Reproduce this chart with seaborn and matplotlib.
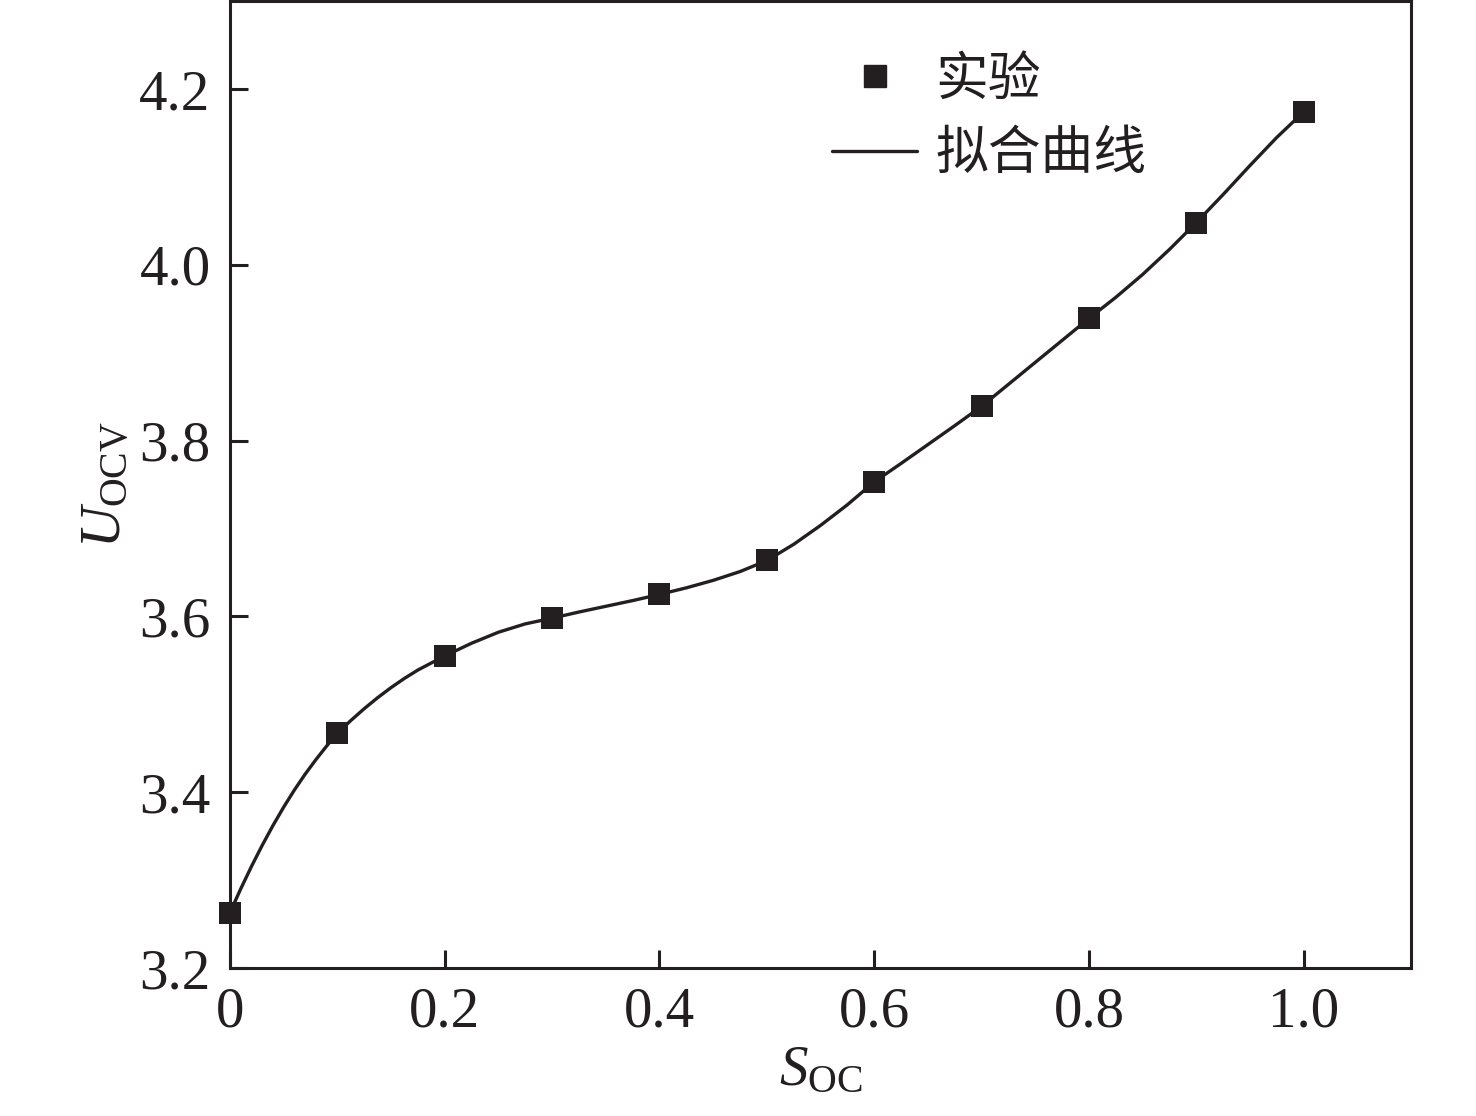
import matplotlib
matplotlib.use('Agg')
import matplotlib.pyplot as plt
import seaborn as sns
from matplotlib.lines import Line2D

# Dados experimentais (SOC x tensão de circuito aberto)
soc_exp = [0.0, 0.1, 0.2, 0.3, 0.4, 0.5, 0.6, 0.7, 0.8, 0.9, 1.0]
u_exp = [3.263, 3.467, 3.555, 3.598, 3.625, 3.664, 3.753, 3.839, 3.939, 4.048, 4.174]

# Curva ajustada
soc_fit = [0.0, 0.01, 0.02, 0.03, 0.04, 0.05, 0.06, 0.07, 0.08, 0.09,
           0.1, 0.1125, 0.125, 0.1375, 0.15, 0.1625, 0.175, 0.1875, 0.2,
           0.225, 0.25, 0.275, 0.3, 0.325, 0.35, 0.375, 0.4, 0.425, 0.45, 0.475,
           0.5, 0.525, 0.55, 0.575, 0.6, 0.625, 0.65, 0.675, 0.7, 0.725, 0.75,
           0.775, 0.8, 0.825, 0.85, 0.875, 0.9, 0.925, 0.95, 0.975, 1.0]
u_fit = [3.263, 3.290, 3.3155, 3.3395, 3.362, 3.383, 3.4025, 3.4205, 3.437, 3.4525,
         3.467, 3.4815, 3.495, 3.5075, 3.519, 3.5295, 3.539, 3.547, 3.555,
         3.5695, 3.582, 3.5915, 3.598, 3.605, 3.6115, 3.618, 3.625, 3.6325, 3.641, 3.651,
         3.6635, 3.682, 3.7035, 3.727, 3.753, 3.774, 3.7955, 3.817, 3.839, 3.864, 3.889,
         3.914, 3.939, 3.963, 3.989, 4.0175, 4.048, 4.080, 4.113, 4.145, 4.174]

cor = '#231f20'

sns.set_style('ticks')
plt.rcParams['font.family'] = ['Liberation Serif', 'Noto Sans CJK SC', 'DejaVu Sans']
plt.rcParams['mathtext.fontset'] = 'custom'
plt.rcParams['mathtext.rm'] = 'Liberation Serif'
plt.rcParams['mathtext.it'] = 'Liberation Serif:italic'

fig = plt.figure(figsize=(14.76, 11.16), dpi=100)
ax = fig.add_axes([0.1558, 0.1326, 0.8002, 0.8664])

sns.lineplot(x=soc_fit, y=u_fit, ax=ax, color=cor, linewidth=2.4, estimator=None, sort=True)
sns.scatterplot(x=soc_exp, y=u_exp, ax=ax, marker='s', s=250, color=cor, edgecolor='none',
                zorder=3, clip_on=False)

ax.set_xlim(0, 1.1)
ax.set_ylim(3.2, 4.3)
ax.set_xticks([0, 0.2, 0.4, 0.6, 0.8, 1.0])
ax.set_xticklabels(['0', '0.2', '0.4', '0.6', '0.8', '1.0'])
ax.set_yticks([3.2, 3.4, 3.6, 3.8, 4.0, 4.2])
ax.set_yticklabels(['3.2', '3.4', '3.6', '3.8', '4.0', '4.2'])
ax.tick_params(direction='in', length=13, width=2.2, labelsize=41, colors=cor,
               top=False, right=False)
ax.tick_params(axis='x', pad=13)
ax.tick_params(axis='y', pad=14)
for s in ax.spines.values():
    s.set_linewidth(2.2)
    s.set_color(cor)

ax.set_xlabel(r'$S_{\mathrm{OC}}$', fontsize=41, color=cor, labelpad=5)
ax.set_ylabel(r'$U_{\mathrm{OCV}}$', fontsize=41, color=cor, labelpad=4)

handles = [
    Line2D([], [], marker='s', linestyle='none', markersize=15.5, color=cor),
    Line2D([], [], color=cor, linewidth=2.4),
]
leg = ax.legend(handles, ['实验', '拟合曲线'], loc='upper left', bbox_to_anchor=(0.51, 0.948),
                frameon=False, borderpad=0, borderaxespad=0, handlelength=1.6,
                handletextpad=0.35, labelspacing=0.38,
                prop={'family': ['Noto Sans CJK SC'], 'size': 38})
for t in leg.get_texts():
    t.set_color(cor)

fig.savefig('out.png', dpi=100)
